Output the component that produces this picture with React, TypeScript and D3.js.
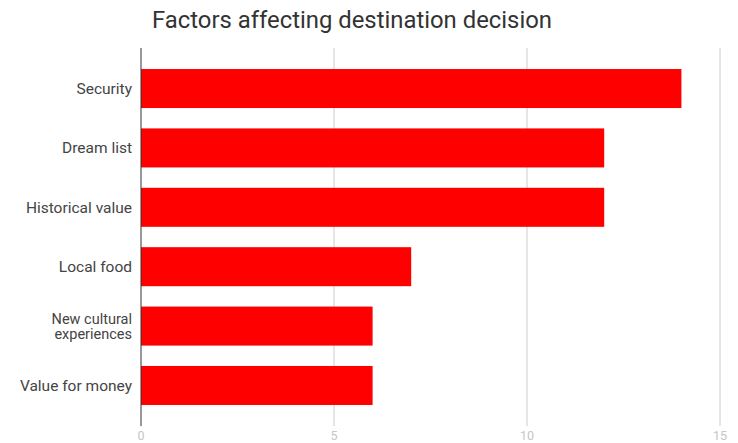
import React from 'react';
import * as d3 from 'd3';

const categories: string[][] = [
  ['Security'],
  ['Dream list'],
  ['Historical value'],
  ['Local food'],
  ['New cultural', 'experiences'],
  ['Value for money'],
];
const values = [14, 12, 12, 7, 6, 6];
const xTicks = [0, 5, 10, 15];
const title = 'Factors affecting destination decision';

const W = 738;
const H = 443;
const font = 'Roboto, sans-serif';

const App: React.FC = () => {
  const keys = categories.map((c) => c.join(' '));
  const x = d3.scaleLinear().domain([0, 15]).range([141, 720]);
  const y = d3.scaleBand<string>().domain(keys).range([48, 426]).paddingInner(0.343).paddingOuter(0.354);
  const [y0, y1] = y.range();

  return (
    <svg width={W} height={H} style={{ position: 'absolute', left: 0, top: 0 }}>
      <rect width={W} height={H} fill="#fff" />
      <text x={152} y={28} fontFamily={font} fontSize={23} fill="#333" textLength={400} lengthAdjust="spacingAndGlyphs">
        {title}
      </text>
      {xTicks.map((t) => (
        <g key={t}>
          {t !== 0 && <line x1={x(t)} x2={x(t)} y1={y0} y2={y1} stroke="#ccc" strokeWidth={1} />}
          <text x={x(t)} y={440} textAnchor="middle" fontFamily={font} fontSize={12.5} fill="#c6c6c6">
            {t}
          </text>
        </g>
      ))}
      {values.map((v, i) => (
        <rect
          key={keys[i]}
          x={x(0)}
          y={y(keys[i])}
          width={x(v) - x(0)}
          height={y.bandwidth()}
          fill="#ff0000"
        />
      ))}
      <line x1={x(0)} x2={x(0)} y1={y0} y2={y1} stroke="#333" strokeWidth={1} />
      {categories.map((lines, i) => {
        const cy = (y(keys[i]) as number) + y.bandwidth() / 2;
        const lh = 15;
        const fs = lines.length > 1 ? 14.5 : 15.5;
        const start = cy - ((lines.length - 1) * lh) / 2;
        return (
          <text key={keys[i]} textAnchor="end" fontFamily={font} fontSize={fs} fill="#444">
            {lines.map((l, j) => (
              <tspan key={j} x={132} y={start + j * lh} dy="0.35em">
                {l}
              </tspan>
            ))}
          </text>
        );
      })}
    </svg>
  );
};

export default App;
